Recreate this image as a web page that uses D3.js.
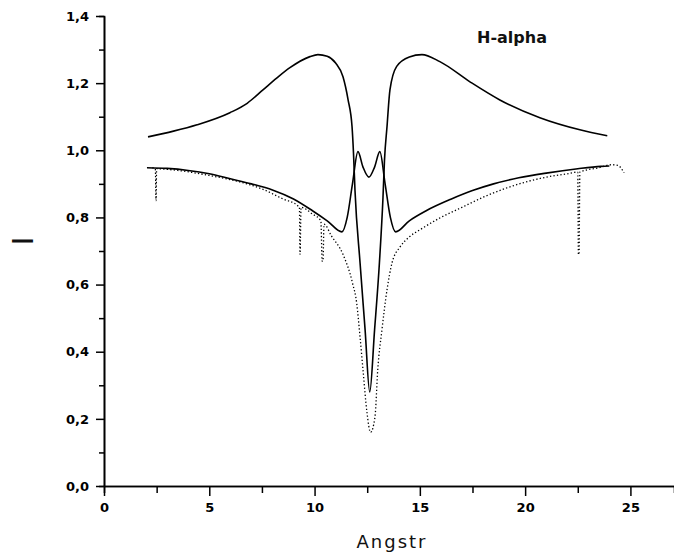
<!DOCTYPE html>
<html>
<head>
<meta charset="utf-8">
<script src="https://cdn.jsdelivr.net/npm/d3@7/dist/d3.min.js"></script>
<style>
  body { margin: 0; background: #fff; }
  svg { display: block; }
</style>
</head>
<body>
<svg id="halpha" width="674" height="557"></svg>
<script>
// emission profile (upper solid curve)
var upperX = [2.09, 3.3, 4.42, 5.98, 6.8, 7.55, 8.2, 8.83, 9.78, 10.16, 10.6, 11.0, 11.35, 11.59, 11.78, 11.85,
              11.92, 12.16, 12.4, 12.62, 12.85, 13.08, 13.25, 13.32, 13.44, 13.58, 13.9, 14.5, 15.1, 15.95,
              17.38, 18.8, 20.7, 22.6, 23.9];
var upperY = [1.04, 1.057, 1.076, 1.112, 1.14, 1.18, 1.215, 1.246, 1.279, 1.285, 1.28, 1.26, 1.219, 1.151, 1.07, 0.99,
              0.88, 0.665, 0.465, 0.28, 0.465, 0.665, 0.86, 0.97, 1.07, 1.18, 1.25, 1.278, 1.285, 1.264,
              1.204, 1.15, 1.097, 1.061, 1.043];

// absorption profile with central reversal (lower solid curve)
var lowerX = [2.04, 3, 4, 5, 6, 7, 8, 9, 9.9, 10.6, 11.3, 11.55, 11.8, 12.06, 12.3, 12.58, 12.85, 13.1,
              13.35, 13.6, 13.85, 14.5, 15.3, 16.5, 17.5, 18.5, 19.7, 21, 22.5, 23.6, 24.0];
var lowerY = [0.948, 0.946, 0.94, 0.93, 0.915, 0.9, 0.882, 0.855, 0.82, 0.79, 0.757, 0.8, 0.9, 0.996, 0.95, 0.92, 0.95, 0.996,
              0.9, 0.8, 0.757, 0.79, 0.82, 0.855, 0.88, 0.9, 0.918, 0.932, 0.945, 0.952, 0.953];

// observed spectrum (dotted curve)
var dottedX = [2.3, 2.44, 2.47, 2.5, 3.5, 5.0, 6.5, 7.5, 8.5, 9.2, 9.28, 9.31, 9.36, 9.9, 10.3, 10.36, 10.4, 10.45,
               10.8, 11.35, 11.8, 12.0, 12.16, 12.3, 12.49, 12.66, 12.87, 13.0, 13.2, 13.44, 13.68, 14.06, 14.5,
               15.0, 16, 17, 18, 19, 20, 21, 22, 22.5, 22.53, 22.56, 22.6, 23.5, 24.1, 24.4, 24.7];
var dottedY = [0.948, 0.945, 0.85, 0.945, 0.94, 0.925, 0.905, 0.885, 0.855, 0.835, 0.83, 0.69, 0.83, 0.81, 0.79, 0.67, 0.67, 0.78,
               0.745, 0.69, 0.605, 0.545, 0.444, 0.346, 0.218, 0.16, 0.206, 0.346, 0.465, 0.584, 0.665, 0.712, 0.742,
               0.763, 0.8, 0.83, 0.86, 0.885, 0.905, 0.92, 0.93, 0.935, 0.69, 0.69, 0.935, 0.948, 0.957, 0.955, 0.933];

var xTicks = [0, 5, 10, 15, 20, 25];
var xMinor = [2.5, 7.5, 12.5, 17.5, 22.5];
var yTicks = [0, 0.2, 0.4, 0.6, 0.8, 1.0, 1.2, 1.4];
var yMinor = [0.1, 0.3, 0.5, 0.7, 0.9, 1.1, 1.3];

var svg = d3.select("svg#halpha"),
    margin = {top: 16, right: 0, bottom: 71, left: 104},
    width = +svg.attr("width") - margin.left - margin.right,
    height = +svg.attr("height") - margin.top - margin.bottom;

var g = svg.append("g")
    .attr("transform", "translate(" + margin.left + "," + margin.top + ")");

var x = d3.scaleLinear().domain([0, 27.07]).range([0, width]);
var y = d3.scaleLinear().domain([0, 1.4]).range([height, 0]);

var comma = function (d) { return d3.format(".1f")(d).replace(".", ","); };
var tickFont = "'DejaVu Sans', Verdana, sans-serif";

function styleAxis(sel) {
    sel.select(".domain").attr("stroke", "#000").attr("stroke-width", 1.6);
    sel.selectAll(".tick line").attr("stroke", "#000").attr("stroke-width", 1.5);
    sel.selectAll("text")
        .attr("fill", "#000")
        .attr("font-family", tickFont)
        .attr("font-weight", "bold")
        .attr("font-size", 13);
}

// minor ticks first
g.append("g")
    .attr("transform", "translate(0," + height + ")")
    .call(d3.axisBottom(x).tickValues(xMinor).tickSize(7).tickFormat(""))
    .call(styleAxis);

g.append("g")
    .call(d3.axisLeft(y).tickValues(yMinor).tickSize(5).tickFormat(""))
    .call(styleAxis);

g.append("g")
    .attr("transform", "translate(0," + height + ")")
    .call(d3.axisBottom(x).tickValues(xTicks).tickSize(10).tickPadding(7).tickSizeOuter(0))
    .call(styleAxis);

g.append("g")
    .call(d3.axisLeft(y).tickValues(yTicks).tickSize(8).tickPadding(7).tickSizeOuter(0).tickFormat(comma))
    .call(styleAxis);

// curves
var line = d3.line()
    .curve(d3.curveMonotoneX)
    .x(function (d) { return x(d[0]); })
    .y(function (d) { return y(d[1]); });

function pairs(xs, ys) {
    return xs.map(function (v, i) { return [v, ys[i]]; });
}

g.append("path")
    .datum(pairs(dottedX, dottedY))
    .attr("fill", "none")
    .attr("stroke", "#000")
    .attr("stroke-width", 1.3)
    .attr("stroke-dasharray", "1.3,2.2")
    .attr("d", line);

g.append("path")
    .datum(pairs(lowerX, lowerY))
    .attr("fill", "none")
    .attr("stroke", "#000")
    .attr("stroke-width", 1.6)
    .attr("d", line);

g.append("path")
    .datum(pairs(upperX, upperY))
    .attr("fill", "none")
    .attr("stroke", "#000")
    .attr("stroke-width", 1.6)
    .attr("d", line);

// labels
svg.append("text")
    .attr("x", 477)
    .attr("y", 43)
    .attr("font-family", tickFont)
    .attr("font-weight", "bold")
    .attr("font-size", 16)
    .attr("fill", "#111")
    .text("H-alpha");

svg.append("text")
    .attr("x", 392)
    .attr("y", 548)
    .attr("text-anchor", "middle")
    .attr("font-family", tickFont)
    .attr("font-size", 18)
    .attr("letter-spacing", 2)
    .attr("fill", "#111")
    .text("Angstr");

svg.append("text")
    .attr("transform", "translate(33,241) rotate(-90)")
    .attr("text-anchor", "middle")
    .attr("font-family", tickFont)
    .attr("font-size", 29)
    .attr("fill", "#111")
    .text("I");
</script>
</body>
</html>
